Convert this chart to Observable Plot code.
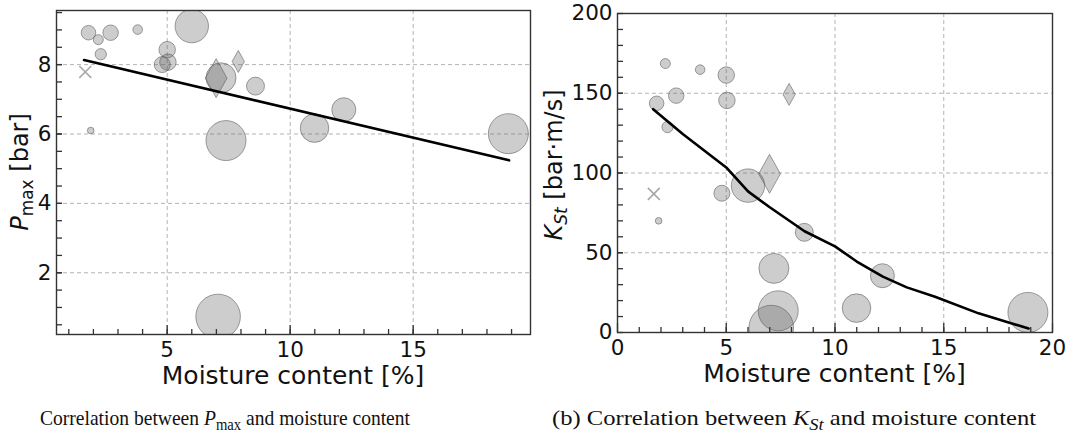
<!DOCTYPE html>
<html><head><meta charset="utf-8">
<script src="https://cdn.jsdelivr.net/npm/d3@7"></script>
<script src="https://cdn.jsdelivr.net/npm/@observablehq/plot@0.6"></script>
<style>
body{margin:0;background:#fff;}
#fig{position:relative;width:1074px;height:435px;overflow:hidden;font-family:"DejaVu Sans";}
.panel{position:absolute;top:0;}
.cap{position:absolute;top:406px;font-family:"Liberation Serif";font-size:21px;line-height:24px;white-space:nowrap;transform-origin:0 0;color:#111}
.cap sub{font-size:0.75em;vertical-align:-0.3em;line-height:0}
</style></head><body>
<div id="fig">
<div id="left" class="panel" style="left:0"></div>
<div id="right" class="panel" style="left:540px"></div>
<div id="capL" class="cap">Correlation between <i>P</i><sub>max</sub> and moisture content</div>
<div id="capR" class="cap">(b) Correlation between <i>K<sub>St</sub></i> and moisture content</div>
</div>
<script>
// ---- data ----
const moisture = [1.80, 2.20, 2.70, 2.30, 3.80, 6.00, 5.00, 4.80, 5.03, 1.67, 1.89, 7.19, 6.99, 7.89, 8.59, 7.39, 7.07, 12.18, 10.99, 18.87];
const pmax     = [8.92, 8.72, 8.92, 8.30, 9.01, 9.11, 8.43, 8.00, 8.07, 7.79, 6.10, 7.62, 7.61, 8.09, 7.38, 5.81, 0.74, 6.70, 6.17, 6.01];
const kst      = [143.7, 168.6, 148.5, 128.8, 164.8, 92.1, 161.4, 87.3, 145.5, 86.9, 70.0, 40.2, 99.5, 149.3, 62.8, 13.6, 3.1, 35.6, 15.3, 12.6];
const bubble   = [53, 25, 60, 32, 23, 279, 68, 64, 68, 30, 11, 225, 380, 121, 81, 400, 497, 144, 204, 400];
const marker   = ["o","o","o","o","o","o","o","o","o","x","o","o","d","d","o","o","o","o","o","o"];

const pmaxFitX = [1.62, 18.9];
const pmaxFitY = [8.13, 5.24];
const kstFitX  = [1.64, 3.0, 5.0, 6.0, 7.0, 8.6, 10.0, 11.0, 12.2, 13.3, 14.6, 16.6, 18.9];
const kstFitY  = [140, 124.5, 103.5, 88.5, 78.5, 63.5, 54, 44.5, 35, 28.3, 22.4, 12, 2.5];

const leftXLabels = [5, 10, 15];
const leftYLabels = [2, 4, 6, 8];
const rightXLabels = [0, 5, 10, 15, 20];
const rightYLabels = [0, 50, 100, 150, 200];
const leftYMinor = d3.range(0.5, 9.51, 0.5);
const rightYMinor = d3.range(10, 191, 10);
const xMinor = d3.range(1, 20, 1);

const points = moisture.map((m, i) => ({m, p: pmax[i], k: kst[i], s: bubble[i], shape: marker[i]}));

const thinDiamond = {
  draw(ctx, size) {
    const r = Math.sqrt(size / Math.PI);
    ctx.moveTo(0, -r); ctx.lineTo(0.56 * r, 0); ctx.lineTo(0, r); ctx.lineTo(-0.56 * r, 0); ctx.closePath();
  }
};

function makePanel(o) {
  const fh = o.height - o.mt - o.mb, fw = o.width - o.ml - o.mr;
  const grid = {stroke: "#b4b4b4", strokeOpacity: 1, strokeWidth: 1, strokeDasharray: "4,3"};
  const tickStyle = {stroke: "#333", strokeWidth: 1.3};
  const dotStyle = {fill: "#5a5a5a", fillOpacity: 0.3, stroke: "#555", strokeOpacity: 0.55, strokeWidth: 1, clip: true};
  const svg = Plot.plot({
    width: o.width, height: o.height,
    marginLeft: o.ml, marginRight: o.mr, marginTop: o.mt, marginBottom: o.mb,
    style: {fontFamily: "DejaVu Sans", fontSize: "21.5px", background: "transparent", color: "#111"},
    x: {domain: o.xDomain},
    y: {domain: o.yDomain},
    r: {type: "sqrt", domain: [0, 500], range: [0, Math.sqrt(500)]},
    marks: [
      Plot.gridX(o.xGrid, grid),
      Plot.gridY(o.yGrid, grid),
      Plot.dot(points.filter(d => d.shape === "o"), {x: "m", y: o.yKey, r: "s", ...dotStyle}),
      Plot.dot(points.filter(d => d.shape === "d"), {x: "m", y: o.yKey, r: "s", symbol: thinDiamond, ...dotStyle}),
      Plot.dot(points.filter(d => d.shape === "x"), {x: "m", y: o.yKey, r: "s", symbol: "times", stroke: "#a8a8a8", strokeWidth: 1.6, clip: true}),
      Plot.line(o.fitX.map((x, i) => ({x, y: o.fitY[i]})), {x: "x", y: "y", stroke: "#000", strokeWidth: 2.6, curve: "linear"}),
      Plot.ruleX(xMinor, {...tickStyle, insetTop: fh - 5}),
      Plot.ruleX(o.xLabels, {...tickStyle, insetTop: fh - 9}),
      Plot.ruleY(o.yMinor, {...tickStyle, insetRight: fw - 6}),
      Plot.ruleY(o.yLabels, {...tickStyle, insetRight: fw - 6}),
      Plot.frame({stroke: "#333", strokeWidth: 1.4}),
      Plot.axisX(o.xLabels, {tickSize: 0, tickPadding: 7, label: null, fontSize: 21.5}),
      Plot.axisY(o.yLabels, {tickSize: 0, tickPadding: 5, label: null, fontSize: 21.5})
    ]
  });
  const s = d3.select(svg);
  s.append("text")
    .attr("x", o.ml + fw / 2).attr("y", o.xLabelY)
    .attr("text-anchor", "middle").attr("fill", "#111")
    .style("font-family", "DejaVu Sans").style("font-size", "25px")
    .text("Moisture content [%]");
  const t = s.append("text")
    .attr("transform", `translate(${o.yLabelX},${o.yLabelY}) rotate(-90)`)
    .attr("text-anchor", "middle").attr("fill", "#111")
    .style("font-family", "DejaVu Sans").style("font-size", "24px");
  t.append("tspan").attr("font-style", "italic").text(o.yMain);
  t.append("tspan").attr("font-size", "17px").attr("dy", 5).attr("font-style", o.subItalic ? "italic" : "normal").text(o.ySub);
  t.append("tspan").attr("dy", -5).text(o.yUnit);
  return svg;
}

document.getElementById("left").appendChild(makePanel({
  width: 540, height: 400, ml: 56, mr: 10, mt: 10, mb: 66,
  xDomain: [0.5, 19.77], yDomain: [0.22, 9.56], yKey: "p",
  xGrid: leftXLabels, yGrid: leftYLabels, xLabels: leftXLabels, yLabels: leftYLabels, yMinor: leftYMinor,
  fitX: pmaxFitX, fitY: pmaxFitY,
  xLabelY: 384, yLabelX: 28, yLabelY: 172, yMain: "P", ySub: "max", subItalic: false, yUnit: " [bar]"
}));
document.getElementById("right").appendChild(makePanel({
  width: 534, height: 400, ml: 77, mr: 22, mt: 13, mb: 68,
  xDomain: [0, 20], yDomain: [0, 200], yKey: "k",
  xGrid: [5, 10, 15], yGrid: [50, 100, 150], xLabels: rightXLabels, yLabels: rightYLabels, yMinor: rightYMinor,
  fitX: kstFitX, fitY: kstFitY,
  xLabelY: 382, yLabelX: 22, yLabelY: 165, yMain: "K", ySub: "St", subItalic: true, yUnit: " [bar·m/s]"
}));

function fitCaption(id, x0, x1) {
  const el = document.getElementById(id);
  el.style.left = x0 + "px";
  const w = el.getBoundingClientRect().width;
  el.style.transform = `scaleX(${(x1 - x0) / w})`;
}
fitCaption("capL", 40, 410);
fitCaption("capR", 552, 1036);
</script>
</body></html>
